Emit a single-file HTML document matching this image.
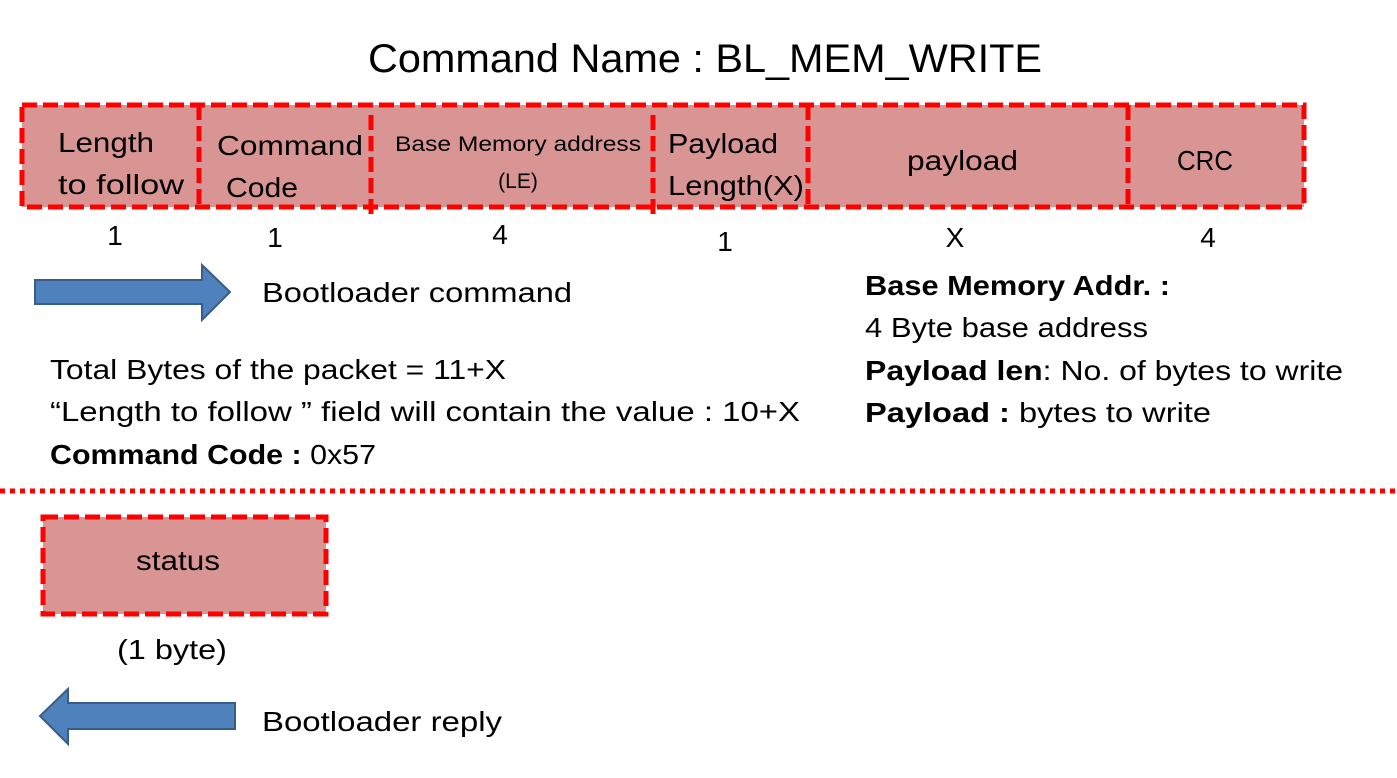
<!DOCTYPE html>
<html><head><meta charset="utf-8"><style>
body{margin:0;background:#fff;}
svg text{font-family:"Liberation Sans",sans-serif;fill:#000;}
</style></head><body>
<svg width="1397" height="773" xmlns="http://www.w3.org/2000/svg">
<text x="368" y="72" font-size="40" textLength="674" lengthAdjust="spacingAndGlyphs">Command Name : BL_MEM_WRITE</text>
<rect x="22" y="105" width="1282" height="102" fill="#d99594"/>
<rect x="43" y="517" width="283" height="97" fill="#d99594" stroke="#ff0000" stroke-width="5" stroke-dasharray="15,6"/>
<g stroke="#ff0000" stroke-width="5" stroke-dasharray="15,6" fill="none">
<rect x="22" y="105" width="1282" height="102"/>
<line x1="199" y1="105" x2="199" y2="207"/>
<line x1="371" y1="115" x2="371" y2="216"/>
<line x1="653" y1="115" x2="653" y2="214"/>
<line x1="808" y1="105" x2="808" y2="207"/>
<line x1="1128" y1="105" x2="1128" y2="207"/>
</g>
<g font-size="28">
<text x="58" y="152" textLength="96" lengthAdjust="spacingAndGlyphs">Length</text><text x="58" y="194" textLength="126" lengthAdjust="spacingAndGlyphs">to follow</text>
<text x="217" y="155" textLength="146" lengthAdjust="spacingAndGlyphs">Command</text><text x="226" y="197" textLength="72" lengthAdjust="spacingAndGlyphs">Code</text>
<text x="395" y="151" font-size="21" textLength="246" lengthAdjust="spacingAndGlyphs">Base Memory address</text>
<text x="518" y="188" font-size="21" text-anchor="middle">(LE)</text>
<text x="668" y="153" textLength="110" lengthAdjust="spacingAndGlyphs">Payload</text><text x="668" y="195" textLength="136" lengthAdjust="spacingAndGlyphs">Length(X)</text>
<text x="907" y="170" textLength="111" lengthAdjust="spacingAndGlyphs">payload</text>
<text x="1177" y="170" textLength="56" lengthAdjust="spacingAndGlyphs">CRC</text>
<text x="115" y="245" text-anchor="middle">1</text>
<text x="275" y="247" text-anchor="middle">1</text>
<text x="500" y="244" text-anchor="middle">4</text>
<text x="725" y="251" text-anchor="middle">1</text>
<text x="955" y="247" text-anchor="middle">X</text>
<text x="1208" y="247" text-anchor="middle">4</text>
<text x="262" y="302" textLength="310" lengthAdjust="spacingAndGlyphs">Bootloader command</text>
<text x="50" y="379" textLength="456" lengthAdjust="spacingAndGlyphs">Total Bytes of the packet = 11+X</text>
<text x="50" y="421" textLength="750" lengthAdjust="spacingAndGlyphs">“Length to follow ” field will contain the value : 10+X</text>
<text x="50" y="464" textLength="326" lengthAdjust="spacingAndGlyphs"><tspan font-weight="bold">Command Code : </tspan>0x57</text>
<text x="865" y="295" font-weight="bold" textLength="305" lengthAdjust="spacingAndGlyphs">Base Memory Addr. :</text>
<text x="865" y="337" textLength="283" lengthAdjust="spacingAndGlyphs">4 Byte base address</text>
<text x="865" y="380" textLength="478" lengthAdjust="spacingAndGlyphs"><tspan font-weight="bold">Payload len</tspan>: No. of bytes to write</text>
<text x="865" y="422" textLength="346" lengthAdjust="spacingAndGlyphs"><tspan font-weight="bold">Payload : </tspan> bytes to write</text>
<text x="136" y="570" textLength="84" lengthAdjust="spacingAndGlyphs">status</text>
<text x="117" y="659" textLength="110" lengthAdjust="spacingAndGlyphs">(1 byte)</text>
<text x="262" y="731" textLength="240" lengthAdjust="spacingAndGlyphs">Bootloader reply</text>
</g>
<polygon points="35,280 202,280 202,265 230,292 202,320 202,304 35,304" fill="#4f81bd" stroke="#385d8a" stroke-width="2"/>
<polygon points="235,703 68,703 68,689 40,716 68,744 68,729 235,729" fill="#4f81bd" stroke="#385d8a" stroke-width="2"/>
<line x1="0" y1="491" x2="1397" y2="491" stroke="#ff0000" stroke-width="5" stroke-dasharray="5,5"/>
</svg>
</body></html>
